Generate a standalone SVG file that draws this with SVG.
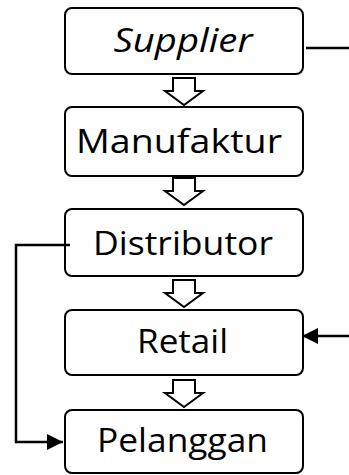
<svg xmlns="http://www.w3.org/2000/svg" width="349" height="475" viewBox="0 0 349 475">
  <style>
    .box { fill: #ffffff; stroke: #000000; stroke-width: 2; }
    .label { font-family: "Open Sans", "Noto Sans", sans-serif; font-size: 32px; fill: #000000; text-anchor: middle; }
    .flow { fill: #ffffff; stroke: #000000; stroke-width: 2; stroke-linejoin: miter; }
    .link { fill: none; stroke: #000000; stroke-width: 2.5; }
  </style>
  <defs>
    <marker id="head" viewBox="0 0 16 16" refX="16" refY="8" markerWidth="16" markerHeight="16" markerUnits="userSpaceOnUse" orient="auto">
      <path d="M0,0 L16,8 L0,16 Z" fill="#000000"/>
    </marker>
    <!-- hollow block arrow pointing down, origin at shaft top centre -->
    <path id="down" d="M-11,0 H11 V13 H19 L0,27 L-19,13 H-11 Z"/>
  </defs>

  <rect width="349" height="475" fill="#ffffff"/>

  <g id="supplier">
    <rect class="box" x="65" y="8" width="238" height="66" rx="7"/>
    <text class="label" x="183" y="52" font-style="italic" textLength="139" lengthAdjust="spacingAndGlyphs">Supplier</text>
  </g>
  <g id="manufaktur">
    <rect class="box" x="65" y="107" width="238" height="69" rx="7"/>
    <text class="label" x="179" y="153" textLength="206" lengthAdjust="spacingAndGlyphs">Manufaktur</text>
  </g>
  <g id="distributor">
    <rect class="box" x="65" y="209" width="238" height="67" rx="7"/>
    <text class="label" x="183" y="255" textLength="180" lengthAdjust="spacingAndGlyphs">Distributor</text>
  </g>
  <g id="retail">
    <rect class="box" x="65" y="310" width="238" height="65" rx="7"/>
    <text class="label" x="182.5" y="353" textLength="91" lengthAdjust="spacingAndGlyphs">Retail</text>
  </g>
  <g id="pelanggan">
    <rect class="box" x="65" y="410" width="238" height="63" rx="7"/>
    <text class="label" x="182.5" y="452" textLength="171" lengthAdjust="spacingAndGlyphs">Pelanggan</text>
  </g>

  <g id="connectors">
    <use href="#down" class="flow" x="184" y="78"/>
    <use href="#down" class="flow" x="184" y="178"/>
    <use href="#down" class="flow" x="184" y="280"/>
    <use href="#down" class="flow" x="184" y="380"/>
    <line class="link" x1="306" y1="48" x2="349" y2="48"/>
    <line class="link" x1="349" y1="336" x2="302" y2="336" marker-end="url(#head)"/>
    <polyline class="link" points="70,245 16,245 16,442 63,442" marker-end="url(#head)"/>
  </g>
</svg>
